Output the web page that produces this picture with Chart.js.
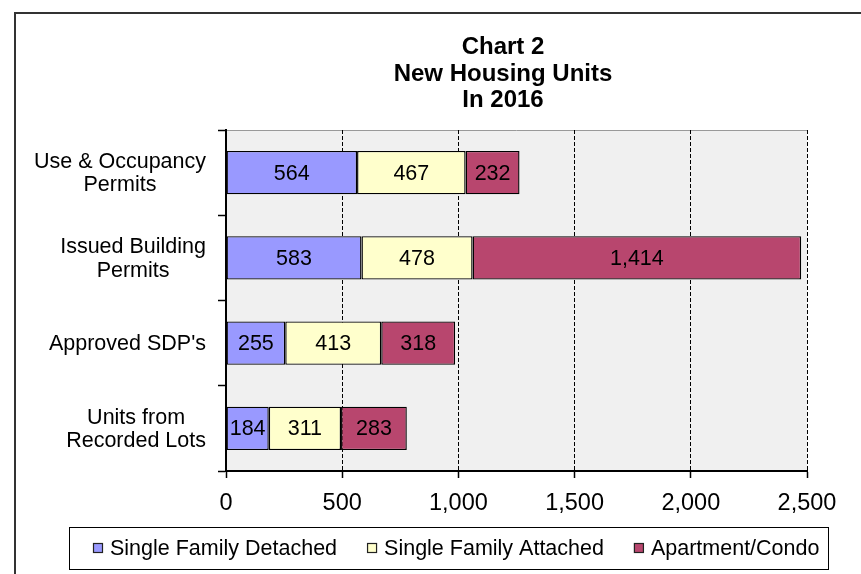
<!DOCTYPE html>
<html><head><meta charset="utf-8">
<script src="https://cdn.jsdelivr.net/npm/chart.js@4.4.1/dist/chart.umd.min.js"></script>
<style>html,body{margin:0;padding:0;background:#fff;overflow:hidden}#wrap{position:relative;width:861px;height:574px}</style>
</head><body><div id="wrap"><canvas id="c" width="861" height="574"></canvas></div>
<script>
const categories = [['Use & Occupancy','Permits'],['Issued Building','Permits'],["Approved SDP's"],['Units from','Recorded Lots']];
const seriesNames = ['Single Family Detached','Single Family Attached','Apartment/Condo'];
const singleFamilyDetached = [564,583,255,184];
const singleFamilyAttached = [467,478,413,311];
const apartmentCondo = [232,1414,318,283];
const xTicks = [0,500,1000,1500,2000,2500];
const titleLines = ['Chart 2','New Housing Units','In 2016'];
const seriesColors = ['#9999FF','#FFFFCC','#B8466E'];

const FONT = "'Liberation Sans', Arial, sans-serif";

const framePlugin = {
  id: 'frame',
  beforeDraw(chart) {
    const ctx = chart.ctx, a = chart.chartArea;
    ctx.save();
    ctx.fillStyle = '#fff';
    ctx.fillRect(0, 0, chart.width, chart.height);
    ctx.strokeStyle = '#333';
    ctx.lineWidth = 2;
    ctx.beginPath();
    ctx.moveTo(15, chart.height);
    ctx.lineTo(15, 13);
    ctx.lineTo(chart.width, 13);
    ctx.stroke();
    ctx.fillStyle = '#F0F0F0';
    ctx.fillRect(a.left, a.top, a.right - a.left, a.bottom - a.top);
    ctx.strokeStyle = '#999';
    ctx.lineWidth = 1;
    ctx.beginPath();
    ctx.moveTo(a.left, a.top + 0.5);
    ctx.lineTo(a.right, a.top + 0.5);
    ctx.stroke();
    // title
    ctx.fillStyle = '#000';
    ctx.font = 'bold 24px ' + FONT;
    ctx.textAlign = 'center';
    ctx.textBaseline = 'alphabetic';
    titleLines.forEach((t, i) => ctx.fillText(t, 503, 54 + i * 26.5));
    ctx.restore();
  },
  afterDatasetsDraw(chart) {
    const ctx = chart.ctx;
    ctx.save();
    ctx.fillStyle = '#000';
    ctx.font = '21.5px ' + FONT;
    ctx.textAlign = 'center';
    ctx.textBaseline = 'middle';
    chart.data.datasets.forEach((ds, di) => {
      const meta = chart.getDatasetMeta(di);
      meta.data.forEach((el, i) => {
        const v = ds.data[i];
        ctx.fillText(v.toLocaleString('en-US'), (el.x + el.base) / 2, el.y + 1);
      });
    });
    // category labels
    const ys = chart.scales.y;
    ctx.font = '21.5px ' + FONT;
    chart.data.labels.forEach((lab, i) => {
      const lines = Array.isArray(lab) ? lab : [lab];
      const w = Math.max(...lines.map(l => ctx.measureText(l).width));
      const cx = 206 - w / 2;
      const cy = ys.getPixelForValue(i);
      const lh = 23.5;
      lines.forEach((l, j) => ctx.fillText(l, cx, cy + (j - (lines.length - 1) / 2) * lh + 1));
    });
    ctx.restore();
  },
  afterDraw(chart) {
    const ctx = chart.ctx;
    ctx.save();
    // legend box
    ctx.fillStyle = '#fff';
    ctx.fillRect(69, 527, 759, 42);
    ctx.strokeStyle = '#000';
    ctx.lineWidth = 1;
    ctx.strokeRect(69.5, 527.5, 759, 42);
    ctx.font = '21.5px ' + FONT;
    ctx.textAlign = 'left';
    ctx.textBaseline = 'middle';
    let x = 93;
    const cy = 548;
    chart.data.datasets.forEach((ds) => {
      ctx.fillStyle = ds.backgroundColor;
      ctx.fillRect(x, cy - 5, 10, 10);
      ctx.strokeStyle = '#222';
      ctx.lineWidth = 1.2;
      ctx.strokeRect(x + 0.5, cy - 4.5, 9, 9);
      ctx.fillStyle = '#000';
      ctx.fillText(ds.label, x + 17, cy + 1);
      x += 17 + ctx.measureText(ds.label).width + 30;
    });
    ctx.restore();
  }
};

const seriesData = [singleFamilyDetached, singleFamilyAttached, apartmentCondo];

new Chart(document.getElementById('c'), {
  type: 'bar',
  data: {
    labels: categories,
    datasets: seriesNames.map((n, i) => ({
      label: n,
      data: seriesData[i],
      backgroundColor: seriesColors[i],
      borderColor: '#000',
      borderWidth: 1.4,
      borderSkipped: false,
      categoryPercentage: 1,
      barPercentage: 0.51
    }))
  },
  options: {
    indexAxis: 'y',
    responsive: false,
    animation: false,
    devicePixelRatio: 1,
    layout: { padding: { top: 130, right: 54, bottom: 0, left: 0 } },
    plugins: { legend: { display: false }, title: { display: false }, tooltip: { enabled: false } },
    scales: {
      x: {
        type: 'linear', stacked: true, min: 0, max: 2500,
        afterBuildTicks: s => { s.ticks = xTicks.map(v => ({ value: v })); },
        grid: { color: '#000', lineWidth: 1, drawTicks: true, tickLength: 7, tickColor: '#000', tickWidth: 1.5, tickBorderDash: [] },
        border: { display: true, color: '#000', width: 2, dash: [4, 2] },
        ticks: { font: { family: FONT, size: 23.5 }, color: '#000', padding: 11, maxRotation: 0 },
        afterFit: s => { s.height = 103; }
      },
      y: {
        type: 'category', stacked: true,
        grid: { drawOnChartArea: false, drawTicks: true, tickLength: 8, tickColor: '#000', tickWidth: 1.5, offset: true },
        border: { display: true, color: '#000', width: 2 },
        ticks: { display: false },
        afterFit: s => { s.width = 226; }
      }
    }
  },
  plugins: [framePlugin]
});
</script>
</body></html>
